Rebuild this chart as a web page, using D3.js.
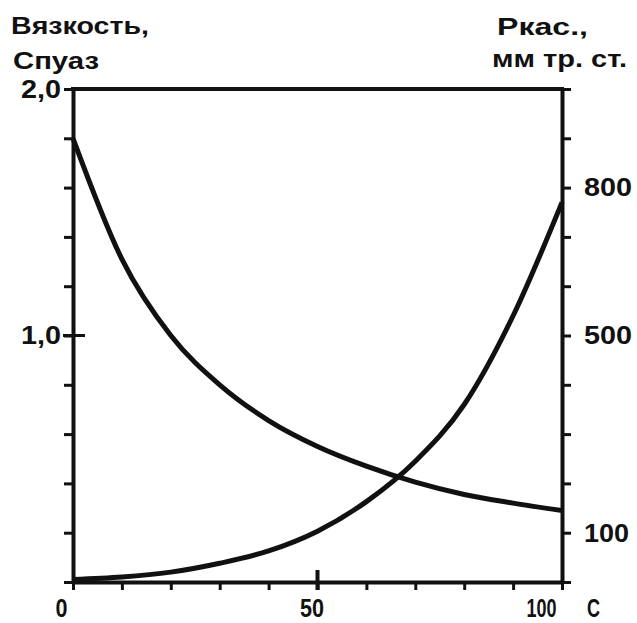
<!DOCTYPE html>
<html>
<head>
<meta charset="utf-8">
<script src="https://cdn.jsdelivr.net/npm/d3@7"></script>
<style>
  body { margin: 0; background: #fff; }
  svg text { font-family: "Liberation Sans", Arial, sans-serif; font-weight: bold; fill: #111; }
</style>
</head>
<body>
<div id="chart"></div>
<script>
// temperature, C
var temps = [0, 10, 20, 30, 40, 50, 60, 70, 80, 90, 100];
// viscosity, cP (left axis)
var viscosity = [1.80, 1.31, 1.00, 0.80, 0.655, 0.55, 0.47, 0.405, 0.355, 0.32, 0.29];
// saturated vapour pressure, mm Hg (right axis)
var pressure = [5, 10, 20, 38, 63, 103, 163, 245, 360, 540, 770];

var leftTicks = d3.range(0, 2.001, 0.2);
var rightTicks = d3.range(0, 1001, 100);
var bottomTicks = d3.range(0, 101, 10);
var leftLabels = {"1": "1,0", "2": "2,0"};
var rightLabels = [100, 500, 800];
var bottomLabels = [0, 50, 100];

var width = 637, height = 623;
var x0 = 73, x1 = 562, y0 = 582, y1 = 89;

var svg = d3.select("#chart").append("svg").attr("width", width).attr("height", height);

var x = d3.scaleLinear().domain([0, 100]).range([x0, x1]);
var yL = d3.scaleLinear().domain([0, 2]).range([y0, y1]);
var yR = d3.scaleLinear().domain([0, 1000]).range([y0, y1]);

var styleAxis = function(g) {
  g.select(".domain").attr("stroke", "#111").attr("stroke-width", 4);
  g.selectAll(".tick line").attr("stroke", "#111").attr("stroke-width", 3);
  g.selectAll(".tick text").attr("font-size", 26).attr("fill", "#111");
};

// left axis
var gl = svg.append("g").attr("transform", "translate(" + x0 + ",0)")
  .call(d3.axisLeft(yL).tickValues(leftTicks).tickSize(9).tickSizeOuter(0).tickPadding(3)
    .tickFormat(function(d) { return leftLabels[Math.round(d * 10) / 10] || ""; }));
styleAxis(gl);
gl.selectAll(".tick text").attr("textLength", 40).attr("lengthAdjust", "spacingAndGlyphs");

// right axis
var gr = svg.append("g").attr("transform", "translate(" + x1 + ",0)")
  .call(d3.axisRight(yR).tickValues(rightTicks).tickSize(9).tickSizeOuter(0).tickPadding(13)
    .tickFormat(function(d) { return rightLabels.indexOf(d) >= 0 ? d : ""; }));
styleAxis(gr);
gr.selectAll(".tick text").attr("textLength", function(d) { return d === 100 ? 45 : 48; }).attr("lengthAdjust", "spacingAndGlyphs");

// bottom axis
var gb = svg.append("g").attr("transform", "translate(0," + y0 + ")")
  .call(d3.axisBottom(x).tickValues(bottomTicks).tickSize(8).tickSizeOuter(0).tickPadding(9)
    .tickFormat(function(d) { return bottomLabels.indexOf(d) >= 0 ? d : ""; }));
styleAxis(gb);
gb.selectAll(".tick text").attr("font-size", 26)
  .attr("dx", function(d) { return d === 0 ? -12 : d === 100 ? -21 : -6; })
  .attr("textLength", function(d) { return d === 0 ? 12 : d === 50 ? 24 : 30; })
  .attr("lengthAdjust", "spacingAndGlyphs");

// longer marks at 1,0 and 50
svg.append("line").attr("x1", x0 - 10).attr("x2", x0 + 12).attr("y1", yL(1)).attr("y2", yL(1))
  .attr("stroke", "#111").attr("stroke-width", 3);
svg.append("line").attr("x1", x(50)).attr("x2", x(50)).attr("y1", y0 - 12).attr("y2", y0 + 8)
  .attr("stroke", "#111").attr("stroke-width", 4);

// top border
svg.append("line").attr("x1", x0 - 2).attr("x2", x1 + 2).attr("y1", y1).attr("y2", y1)
  .attr("stroke", "#111").attr("stroke-width", 4);

// unit of x
svg.append("text").attr("x", 587).attr("y", 617).attr("font-size", 26)
  .attr("textLength", 13).attr("lengthAdjust", "spacingAndGlyphs").text("C");

// axis titles
var titles = [
  {t: "Вязкость,", x: 11, y: 34, w: 138},
  {t: "Спуаз", x: 13, y: 69, w: 86},
  {t: "Ркас.,", x: 497, y: 35, w: 91},
  {t: "мм тр. ст.", x: 492, y: 67, w: 135}
];
svg.selectAll(".title").data(titles).enter().append("text").attr("class", "title")
  .attr("x", function(d) { return d.x; }).attr("y", function(d) { return d.y; })
  .attr("font-size", 24).attr("textLength", function(d) { return d.w; })
  .attr("lengthAdjust", "spacingAndGlyphs").text(function(d) { return d.t; });

// curves
var lineL = d3.line().x(function(d, i) { return x(temps[i]); }).y(function(d) { return yL(d); }).curve(d3.curveMonotoneX);
var lineR = d3.line().x(function(d, i) { return x(temps[i]); }).y(function(d) { return yR(d); }).curve(d3.curveMonotoneX);

svg.append("path").datum(viscosity).attr("d", lineL).attr("fill", "none").attr("stroke", "#111").attr("stroke-width", 5);
svg.append("path").datum(pressure).attr("d", lineR).attr("fill", "none").attr("stroke", "#111").attr("stroke-width", 5);
</script>
</body>
</html>
